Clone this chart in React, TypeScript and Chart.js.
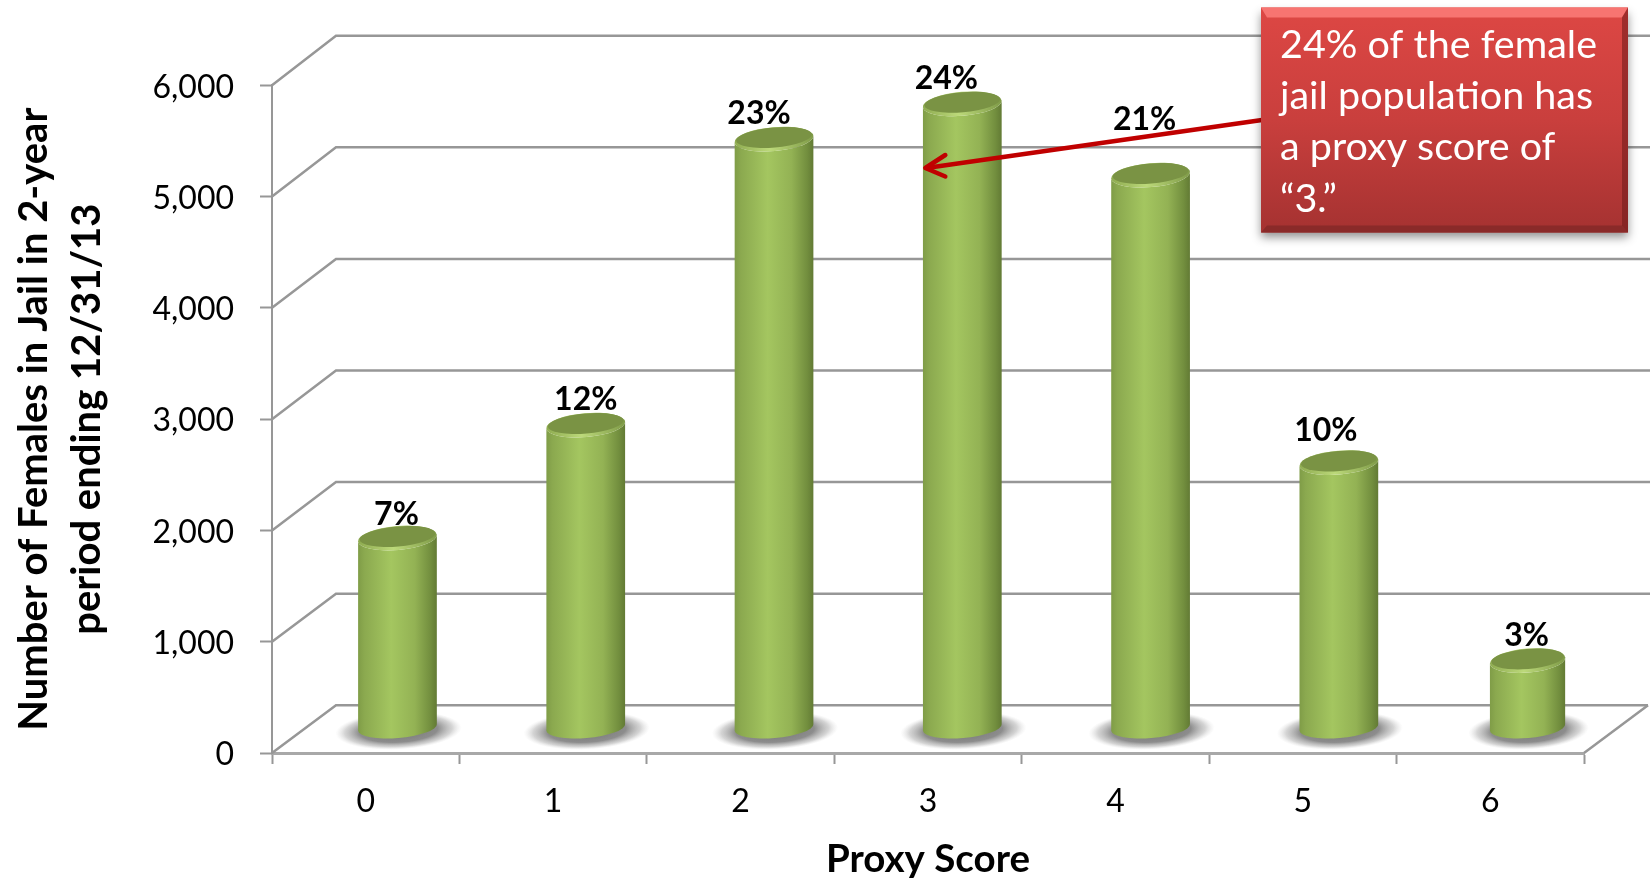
import React, { useEffect, useRef } from "react";
import { Chart, BarController, BarElement, CategoryScale, LinearScale } from "chart.js";

// ---- data ----
const proxyScores = ["0", "1", "2", "3", "4", "5", "6"];
const femalesInJail = [1707, 2722, 5292, 5609, 4968, 2385, 606];
const shareLabels = ["7%", "12%", "23%", "24%", "21%", "10%", "3%"];
const yTicks = [0, 1000, 2000, 3000, 4000, 5000, 6000];
const yTitleLines = ["Number of Females in Jail in 2-year", "period ending 12/31/13"];
const xTitle = "Proxy Score";
const calloutLines = ["24% of the female", "jail population has", "a proxy score of", "\u201C3.\u201D"];

// ---- layout constants ----
const FONT = "Lato, Carlito, Calibri, sans-serif";
const WALL_DX = 64;
const WALL_DY_FLOOR = 47.7;
const WALL_DY_TOP = 49.6;
const BAR_DX = 31.75;
const BAR_DY = 25;
const BAR_DRIFT = 0.85;
const BAR_W = 79;
const LAST_BAR_W = 75.5;
const TILT = -0.085;
const LABEL_NUDGE = [[-1, -23], [0, -25], [-15, -25], [-16, -25], [-6, -55], [-13, -32], [-1, -25]];
const GRID = "#979797";

class CylinderElement extends BarElement {
  static id = "cylinderBar";
  draw(ctx: CanvasRenderingContext2D) {
    const { x, y, base, width } = this as any;
    const rx = width / 2;
    const ry = 12;
    const left = x - rx;
    const right = x + rx;
    ctx.save();
    // floor shadow
    ctx.save();
    ctx.translate(x + 1, base + 3);
    ctx.rotate(TILT * 0.6);
    ctx.scale(width * 0.8, 19);
    const sh = ctx.createRadialGradient(0, 0, 0, 0, 0, 1);
    sh.addColorStop(0, "rgba(105,105,105,0.95)");
    sh.addColorStop(0.62, "rgba(125,125,125,0.88)");
    sh.addColorStop(0.85, "rgba(170,170,170,0.5)");
    sh.addColorStop(1, "rgba(210,210,210,0)");
    ctx.fillStyle = sh;
    ctx.beginPath();
    ctx.arc(0, 0, 1, 0, Math.PI * 2);
    ctx.fill();
    ctx.restore();
    // side of the cylinder
    const side = ctx.createLinearGradient(left, 0, right, 0);
    side.addColorStop(0, "#7f9c47");
    side.addColorStop(0.08, "#8ba94f");
    side.addColorStop(0.42, "#a4c660");
    side.addColorStop(0.72, "#93b254");
    side.addColorStop(0.92, "#728e3e");
    side.addColorStop(1, "#627a34");
    ctx.fillStyle = side;
    ctx.beginPath();
    ctx.ellipse(x, y, rx, ry, TILT, Math.PI, Math.PI * 2, true);
    ctx.ellipse(x, base, rx, ry - 1.5, TILT, 0, Math.PI, false);
    ctx.closePath();
    ctx.fill();
    // rim and lid
    const rim = ctx.createLinearGradient(left, 0, right, 0);
    rim.addColorStop(0, "#8eab50");
    rim.addColorStop(0.45, "#bcd97a");
    rim.addColorStop(1, "#7f9b48");
    ctx.fillStyle = rim;
    ctx.beginPath();
    ctx.ellipse(x, y, rx, ry, TILT, 0, Math.PI * 2);
    ctx.fill();
    ctx.fillStyle = "#7a9344";
    ctx.beginPath();
    ctx.ellipse(x, y - 1.6, rx - 1.5, ry - 2, TILT, 0, Math.PI * 2);
    ctx.fill();
    ctx.restore();
  }
}

class CylinderController extends BarController {
  static id = "cylinder";
  static defaults = { ...(BarController as any).defaults, dataElementType: "cylinderBar" };
  static overrides = (BarController as any).overrides;
}

Chart.register(CylinderController, CylinderElement, CategoryScale, LinearScale);

const depthPlugin = {
  id: "depth",
  // the columns stand half way between the front edge and the back wall
  afterDatasetsUpdate(chart: any) {
    const els = chart.getDatasetMeta(0).data;
    els.forEach((el: any, i: number) => {
      el.x += BAR_DX + i * BAR_DRIFT + (i === els.length - 1 ? 0.4 : 0);
      el.y -= BAR_DY;
      el.base -= BAR_DY;
      el.width = i === els.length - 1 ? LAST_BAR_W : BAR_W;
    });
  },
  beforeDatasetsDraw(chart: any) {
    const { ctx, chartArea, scales, width } = chart;
    const ys = scales.y;
    const rise = (v: number) => WALL_DY_FLOOR + ((WALL_DY_TOP - WALL_DY_FLOOR) * v) / ys.max;
    ctx.save();
    ctx.strokeStyle = GRID;
    ctx.lineWidth = 2.5;
    ys.ticks.forEach((t: any) => {
      const p = ys.getPixelForValue(t.value);
      const back = p - rise(t.value);
      ctx.beginPath();
      ctx.moveTo(chartArea.left, p);
      ctx.lineTo(chartArea.left + WALL_DX, back);
      ctx.lineTo(t.value === 0 ? chartArea.right + WALL_DX : width, back);
      ctx.stroke();
    });
    ctx.beginPath();
    const zero = ys.getPixelForValue(0);
    ctx.moveTo(chartArea.right, zero);
    ctx.lineTo(chartArea.right + WALL_DX, zero - rise(0));
    ctx.stroke();
    ctx.restore();
  },
  afterDatasetsDraw(chart: any) {
    const { ctx } = chart;
    const els = chart.getDatasetMeta(0).data;
    ctx.save();
    ctx.fillStyle = "#000";
    ctx.font = `bold 32px ${FONT}`;
    ctx.textAlign = "center";
    ctx.textBaseline = "middle";
    els.forEach((el: any, i: number) => {
      ctx.fillText(shareLabels[i], el.x + LABEL_NUDGE[i][0], el.y + LABEL_NUDGE[i][1]);
    });
    ctx.restore();

    // arrow from the note to the tallest column
    const tallest = els[3];
    const tipX = tallest.x - tallest.width / 2 + 1.5;
    const tipY = 168;
    ctx.save();
    ctx.strokeStyle = "#c00000";
    ctx.lineWidth = 4.5;
    ctx.lineCap = "round";
    ctx.lineJoin = "round";
    ctx.beginPath();
    ctx.moveTo(1262, 120);
    ctx.lineTo(tipX + 2, tipY);
    ctx.stroke();
    ctx.beginPath();
    ctx.moveTo(tipX + 21, 155);
    ctx.lineTo(tipX + 1, tipY);
    ctx.lineTo(tipX + 21, 176.5);
    ctx.stroke();
    ctx.restore();

    // note box
    const bx = 1261, by = 7.5, bw = 367, bh = 225;
    ctx.save();
    ctx.shadowColor = "rgba(0,0,0,0.42)";
    ctx.shadowBlur = 9;
    ctx.shadowOffsetY = 5;
    const body = ctx.createLinearGradient(0, by, 0, by + bh);
    body.addColorStop(0, "#dd4744");
    body.addColorStop(0.5, "#c93f3d");
    body.addColorStop(1, "#a53231");
    ctx.fillStyle = body;
    ctx.fillRect(bx, by, bw, bh);
    ctx.restore();
    ctx.save();
    ctx.fillStyle = "#f77471";
    ctx.beginPath();
    ctx.moveTo(bx, by);
    ctx.lineTo(bx + bw, by);
    ctx.lineTo(bx + bw - 6, by + 10);
    ctx.lineTo(bx + 6, by + 10);
    ctx.closePath();
    ctx.fill();
    ctx.fillStyle = "#8a2a29";
    ctx.beginPath();
    ctx.moveTo(bx, by + bh);
    ctx.lineTo(bx + bw, by + bh);
    ctx.lineTo(bx + bw - 6, by + bh - 7);
    ctx.lineTo(bx + 6, by + bh - 7);
    ctx.closePath();
    ctx.fill();
    ctx.fillStyle = "rgba(110,25,25,0.55)";
    ctx.beginPath();
    ctx.moveTo(bx + bw, by);
    ctx.lineTo(bx + bw, by + bh);
    ctx.lineTo(bx + bw - 6, by + bh - 7);
    ctx.lineTo(bx + bw - 6, by + 10);
    ctx.closePath();
    ctx.fill();
    ctx.fillStyle = "#fff";
    ctx.font = `39.5px ${FONT}`;
    ctx.textAlign = "left";
    ctx.textBaseline = "alphabetic";
    calloutLines.forEach((line, i) => ctx.fillText(line, 1280, 58 + i * 51.2));
    ctx.restore();
  },
};

export default function App() {
  const ref = useRef<HTMLCanvasElement>(null);
  useEffect(() => {
    const chart = new Chart(ref.current as HTMLCanvasElement, {
      type: "cylinder" as any,
      data: {
        labels: proxyScores,
        datasets: [{ data: femalesInJail, backgroundColor: "#a4c660", barThickness: BAR_W, clip: false } as any],
      },
      options: {
        animation: false,
        responsive: false,
        devicePixelRatio: 1,
        events: [],
        layout: { padding: { top: 85.3, right: 66, left: 14, bottom: 0 } },
        plugins: { legend: { display: false }, tooltip: { enabled: false } },
        scales: {
          x: {
            type: "category",
            offset: true,
            afterFit: (s: any) => { s.height = 127; },
            grid: { offset: true, drawOnChartArea: false, tickLength: 11, tickColor: GRID, tickWidth: 2 },
            border: { color: "#a8a8a8", width: 3 },
            ticks: { color: "#000", font: { family: FONT, size: 32 }, padding: 18, maxRotation: 0 },
            title: { display: true, text: xTitle, color: "#000", font: { family: FONT, size: 38.5, weight: "bold" }, padding: { top: 16, bottom: -3 } },
          },
          y: {
            type: "linear",
            min: 0,
            max: 6000,
            afterFit: (s: any) => { s.width = 258; },
            afterBuildTicks: (s: any) => { s.ticks = yTicks.map((value) => ({ value })); },
            grid: { drawOnChartArea: false, tickLength: 12, tickColor: GRID, tickWidth: 2 },
            border: { color: GRID, width: 2 },
            ticks: {
              color: "#000",
              font: { family: FONT, size: 32 },
              padding: 26,
              labelOffset: 2,
              callback: (v: any) => Number(v).toLocaleString("en-US"),
            },
            title: { display: true, text: yTitleLines, color: "#000", font: { family: FONT, size: 40, weight: "bold", lineHeight: 1.33 }, padding: { top: -7, bottom: 0 } },
          },
        },
      } as any,
      plugins: [depthPlugin],
    });
    return () => chart.destroy();
  }, []);
  return (
    <canvas
      ref={ref}
      width={1650}
      height={880}
      style={{ position: "absolute", left: 0, top: 0, width: 1650, height: 880, background: "#fff" }}
    />
  );
}
